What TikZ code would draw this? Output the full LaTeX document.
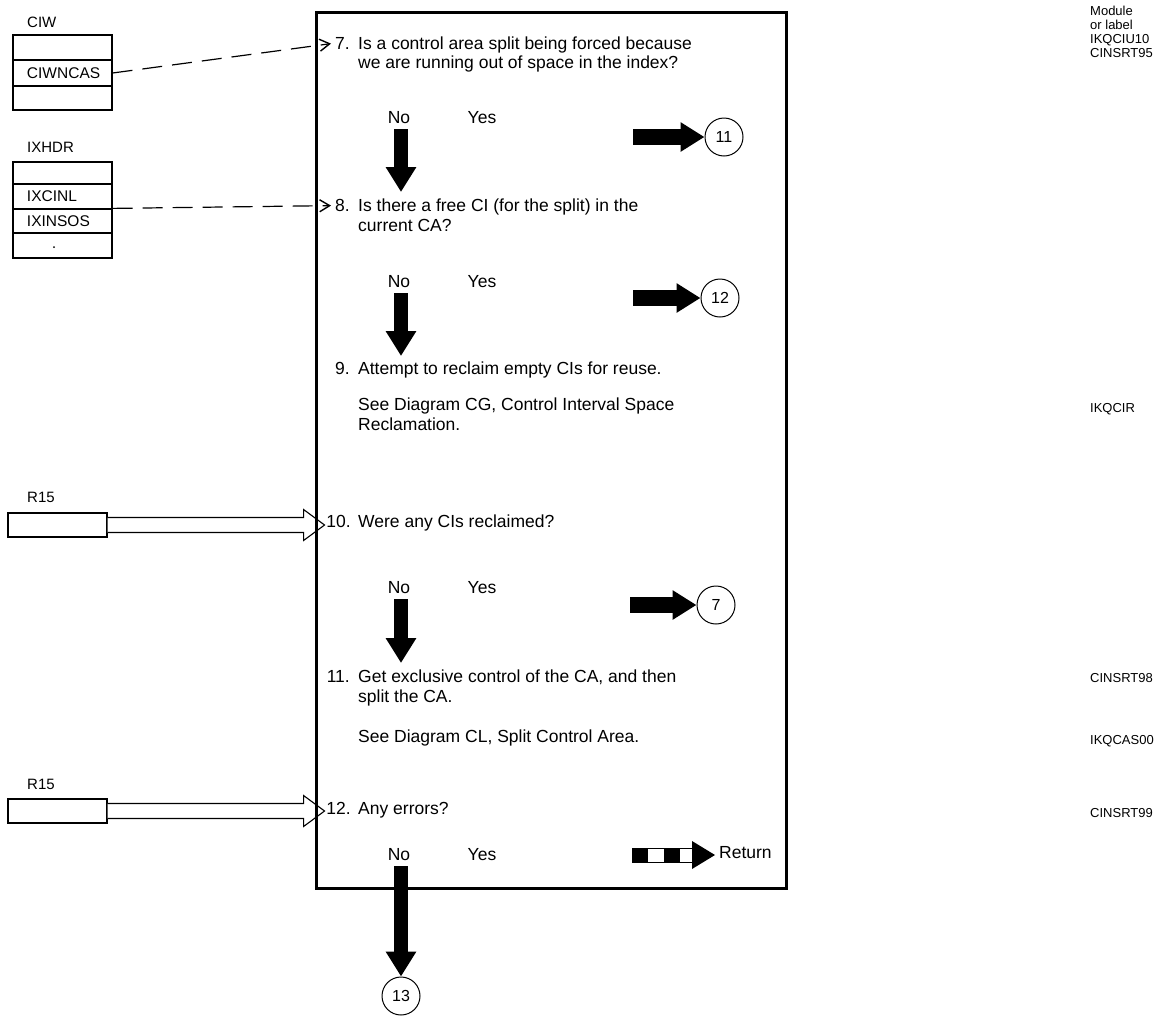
\documentclass[tikz,border=0pt]{standalone}
\usepackage{fontspec}
\setmainfont{Liberation Sans}
\usetikzlibrary{arrows.meta}
\begin{document}
\begin{tikzpicture}[x=1pt,y=-1pt,
  txt/.style={inner sep=0pt, font=\fontsize{17.5}{20}\selectfont, anchor=mid west},
  num/.style={inner sep=0pt, font=\fontsize{17.5}{20}\selectfont, anchor=mid east},
  yn/.style={inner sep=0pt, font=\fontsize{17.5}{20}\selectfont},
  lbl/.style={inner sep=0pt, font=\fontsize{15}{17}\selectfont, anchor=mid west},
  modl/.style={inner sep=0pt, font=\fontsize{13}{15}\selectfont, anchor=mid west},
  cell/.style={draw, line width=1.2pt, minimum width=99pt, text width=71pt, inner xsep=14pt,
    inner ysep=0pt, align=left, font=\fontsize{15.5}{17}\selectfont},
  regbox/.style={draw, line width=1.1pt, minimum width=99pt, minimum height=24pt, inner sep=0pt},
  fatdown/.style={line width=14pt, -{Triangle[width=29pt,length=25pt]}},
  fatright/.style={line width=16pt, -{Triangle[width=28pt,length=24pt]}},
  conn/.style={circle, draw, line width=1pt, minimum size=38pt, inner sep=0pt,
    font=\fontsize{16}{18}\selectfont},
  dashconn/.style={dash pattern=on 20pt off 10pt, line width=1.2pt,
    -{Straight Barb[length=10pt,width=12pt,line width=1.4pt]}},
  hollow/.style={draw, fill=white, line width=1.1pt, line join=miter},
]
\useasboundingbox (0,0) rectangle (1154,1015);

% ---- control blocks on the left ----
\node[lbl] (ciwlbl) at (27,25) {CIW};
\node[cell, minimum height=25pt] (ciw1) at (62.5,47.5) {};
\node[cell, minimum height=26pt] (ciw2) at (62.5,73) {CIWNCAS};
\node[cell, minimum height=24pt] (ciw3) at (62.5,98) {};

\node[lbl] (ixlbl) at (27,150) {IXHDR};
\node[cell, minimum height=22pt] (ix1) at (62.5,173) {};
\node[cell, minimum height=25pt] (ix2) at (62.5,196.5) {IXCINL};
\node[cell, minimum height=24pt] (ix3) at (62.5,221) {IXINSOS};
\node[cell, minimum height=25pt] (ix4) at (62.5,245.5) {};
\fill (54,247) circle (1pt);

% ---- step texts ----
\node[num] (n7) at (350,47) {7.};
\node[txt] (s7a) at (358,47) {Is a control area split being forced because};
\node[txt] (s7b) at (358,66) {we are running out of space in the index?};
\node[yn] (no7) at (399,118) {No};
\node[yn] (yes7) at (482,118) {Yes};

\node[num] (n8) at (350,209) {8.};
\node[txt] (s8a) at (358,209) {Is there a free CI (for the split) in the};
\node[txt] (s8b) at (358,229) {current CA?};
\node[yn] (no8) at (399,282) {No};
\node[yn] (yes8) at (482,282) {Yes};

\node[num] (n9) at (350,372) {9.};
\node[txt] (s9a) at (358,372) {Attempt to reclaim empty CIs for reuse.};
\node[txt] (s9b) at (358,408) {See Diagram CG, Control Interval Space};
\node[txt] (s9c) at (358,428) {Reclamation.};

\node[num] (n10) at (351,525) {10.};
\node[txt] (s10) at (358,525) {Were any CIs reclaimed?};
\node[yn] (no10) at (399,588) {No};
\node[yn] (yes10) at (482,588) {Yes};

\node[num] (n11) at (350,680) {11.};
\node[txt] (s11a) at (358,680) {Get exclusive control of the CA, and then};
\node[txt] (s11b) at (358,700) {split the CA.};
\node[txt] (s11c) at (358,740) {See Diagram CL, Split Control Area.};

\node[num] (n12) at (351,812) {12.};
\node[txt] (s12) at (358,812) {Any errors?};
\node[yn] (no12) at (399,855) {No};
\node[yn] (yes12) at (482,855) {Yes};
\node[txt] (ret) at (719,856) {Return};

% ---- module / label column ----
\node[modl] (mh1) at (1090,13) {Module};
\node[modl] (mh2) at (1090,27) {or label};
\node[modl] (m7a) at (1090,41) {IKQCIU10};
\node[modl] (m7b) at (1090,55) {CINSRT95};
\node[modl] (m9) at (1090,410) {IKQCIR};
\node[modl] (m11a) at (1090,680) {CINSRT98};
\node[modl] (m11b) at (1090,742) {IKQCAS00};
\node[modl] (m12) at (1090,815) {CINSRT99};

% ---- register inputs ----
\node[lbl] (r15lblA) at (27,500) {R15};
\node[regbox] (r15A) at (57.5,525) {};
\path[hollow] ([yshift=7.5pt]r15A.east) -- ++(196,0) -- ++(0,-8) -- ++(21,15.5)
  -- ++(-21,15.5) -- ++(0,-8) -- ++(-196,0);

\node[lbl] (r15lblB) at (27,787) {R15};
\node[regbox] (r15B) at (57.5,811) {};
\path[hollow] ([yshift=7.5pt]r15B.east) -- ++(196,0) -- ++(0,-8) -- ++(21,15.5)
  -- ++(-21,15.5) -- ++(0,-8) -- ++(-196,0);

% ---- the process panel ----
\node[draw, line width=3pt, minimum width=470pt, minimum height=876pt, inner sep=0pt]
  (panel) at (551,450) {};

% ---- data references ----
\draw[dashconn] (ciw2.east) -- ([xshift=-4pt]n7.west);
\draw[dashconn] (ix3.north east) -- ([xshift=-4pt]n8.west);

% ---- decision flow ----
\coordinate (d7a) at (401,129);  \coordinate (d7b) at (401,192);
\draw[fatdown] (d7a) -- (d7b);
\node[conn] (c11) at (724,137) {11};
\coordinate (r7) at (633,137);
\draw[fatright] (r7) -- (c11.west);

\coordinate (d8a) at (401,293);  \coordinate (d8b) at (401,356);
\draw[fatdown] (d8a) -- (d8b);
\node[conn] (c12) at (720,298) {12};
\coordinate (r8) at (633,298);
\draw[fatright] (r8) -- (c12.west);

\coordinate (d10a) at (401,599);  \coordinate (d10b) at (401,663);
\draw[fatdown] (d10a) -- (d10b);
\node[conn] (c7) at (716,605) {7};
\coordinate (r10) at (630,605);
\draw[fatright] (r10) -- (c7.west);

% return arrow with banded shaft
\coordinate (rs) at (632,855);
\fill ([yshift=7pt]rs) rectangle ++(16,14);
\fill ([yshift=7pt,xshift=32pt]rs) rectangle ++(16,14);
\draw[line width=1pt] ([yshift=7pt]rs) rectangle ++(60,14);
\fill ([xshift=60pt,yshift=14pt]rs) -- ([xshift=83pt]rs) -- ([xshift=60pt,yshift=-14pt]rs) -- cycle;

% exit to 13
\node[conn] (c13) at (401,996) {13};
\coordinate (d12a) at (401,866);
\draw[fatdown] (d12a) -- (c13.north);
\end{tikzpicture}
\end{document}
